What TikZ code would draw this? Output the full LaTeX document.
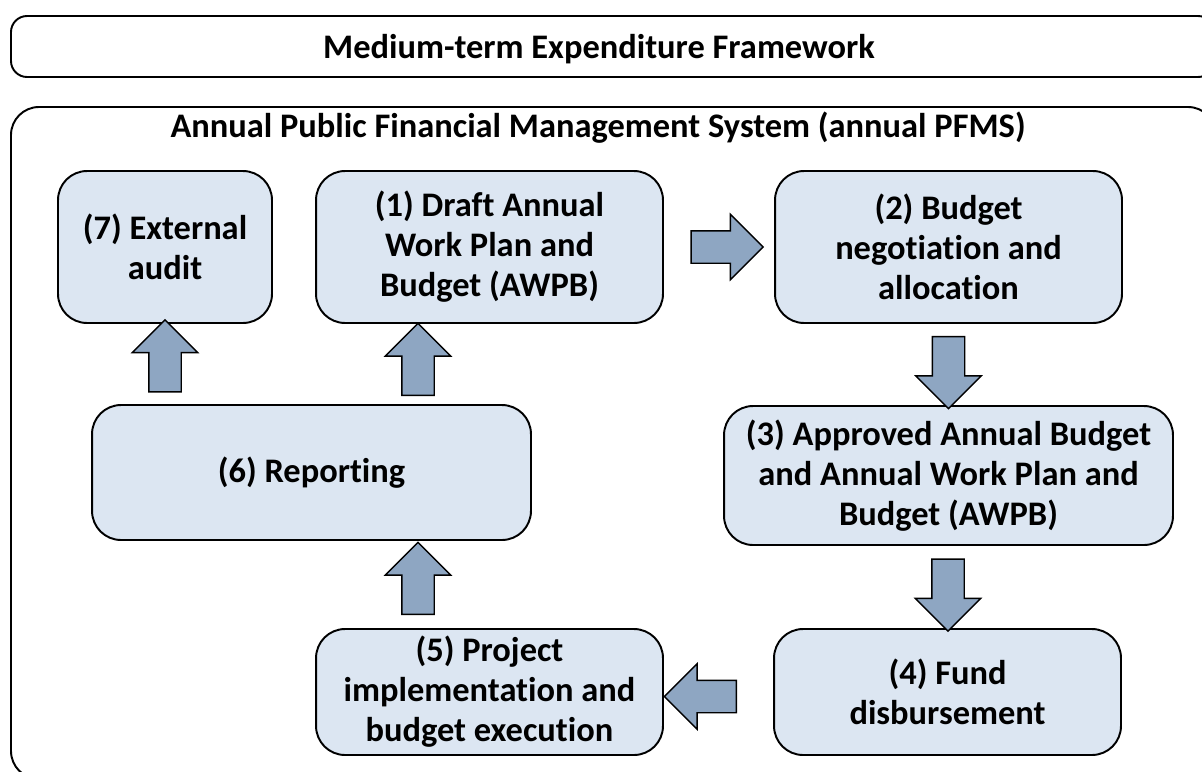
\documentclass[tikz,border=0pt]{standalone}
\usepackage{fontspec}
\setmainfont{Carlito}[Ligatures={NoCommon,NoContextual}, Contextuals=NoAlternate]
\usetikzlibrary{shapes.arrows,calc,positioning}

\definecolor{stagefill}{HTML}{DCE6F2}
\definecolor{arrowfill}{HTML}{8EA6C2}
\newcommand{\stagefont}{\fontsize{19.6}{22.7}\selectfont\bfseries}

\tikzset{
    stage/.style={draw, line width=1.1pt, fill=stagefill, rounded corners=0.58cm,
        align=center, font=\stagefont, inner sep=0pt},
    blockarr/.style={single arrow, draw, line width=0.8pt, fill=arrowfill,
        inner xsep=0pt, inner ysep=0.31cm, single arrow head extend=0.33cm,
        minimum height=1.44cm},
    panel/.style={draw, line width=1.1pt, rounded corners=#1},
}

\begin{document}
\begin{tikzpicture}[x=0.02cm,y=-0.02cm]
        \useasboundingbox (0,0) rectangle (1202,771);
        \clip (0,0) rectangle (1202,771);
        % frames
        \draw[panel=0.32cm] (11,16) rectangle (1214,77);
        \node[anchor=base, font=\stagefont] (mtef) at (599,58) {Medium-term Expenditure Framework};
        \draw[panel=0.56cm] (11,107) rectangle (1216,779);
        \node[anchor=base, font=\stagefont] (pfms) at (598,137) {Annual Public Financial Management System (annual PFMS)};
        % stages
        \node[stage, minimum width=4.28cm, minimum height=3.04cm] (audit)     at (165,247)   {(7) External\\audit}; % top left
        \node[stage, minimum width=6.94cm, minimum height=3.04cm] (draft)     at (489.5,247) {(1) Draft Annual\\Work Plan and\\Budget (AWPB)};
        \node[stage, minimum width=6.94cm, minimum height=3.04cm] (nego)      at (948.5,247) {(2) Budget\\negotiation and\\allocation}; % top right
        \node[stage, minimum width=8.78cm, minimum height=2.70cm] (report)    at (311.5,472.5) {(6) Reporting};
        \node[stage, minimum width=8.98cm, minimum height=2.78cm] (approved)  at (948.5,475.5) {(3) Approved Annual Budget\\and Annual Work Plan and\\Budget (AWPB)};
        \node[stage, minimum width=6.94cm, minimum height=2.52cm] (disburse)  at (947.5,692) {(4) Fund\\disbursement}; % bottom right
        \node[stage, minimum width=6.94cm, minimum height=2.52cm] (implement) at (489.5,692) {(5) Project\\implementation and\\budget execution};
        % block arrows
        \node[blockarr]            (a12) at ($(draft.east)!.5!(nego.west)$) {};
        \node[blockarr, rotate=-90] (a23) at ($(nego.south)!.5!(approved.north)$) {};
        \node[blockarr, rotate=-90] (a34) at ($(approved.south)!.5!(disburse.north)$) {};
        \node[blockarr, rotate=180] (a45) at ($(disburse.west)!.5!(implement.east) + (-10,4.5)$) {};
        \node[blockarr, rotate=90]  (a56) at (418,586.5) {};
        \node[blockarr, rotate=90]  (a67) at ($(audit.south)!.5!(audit.south |- report.north)$) {};
        \node[blockarr, rotate=90]  (a61) at (418,367.5) {};
\end{tikzpicture}
\end{document}
